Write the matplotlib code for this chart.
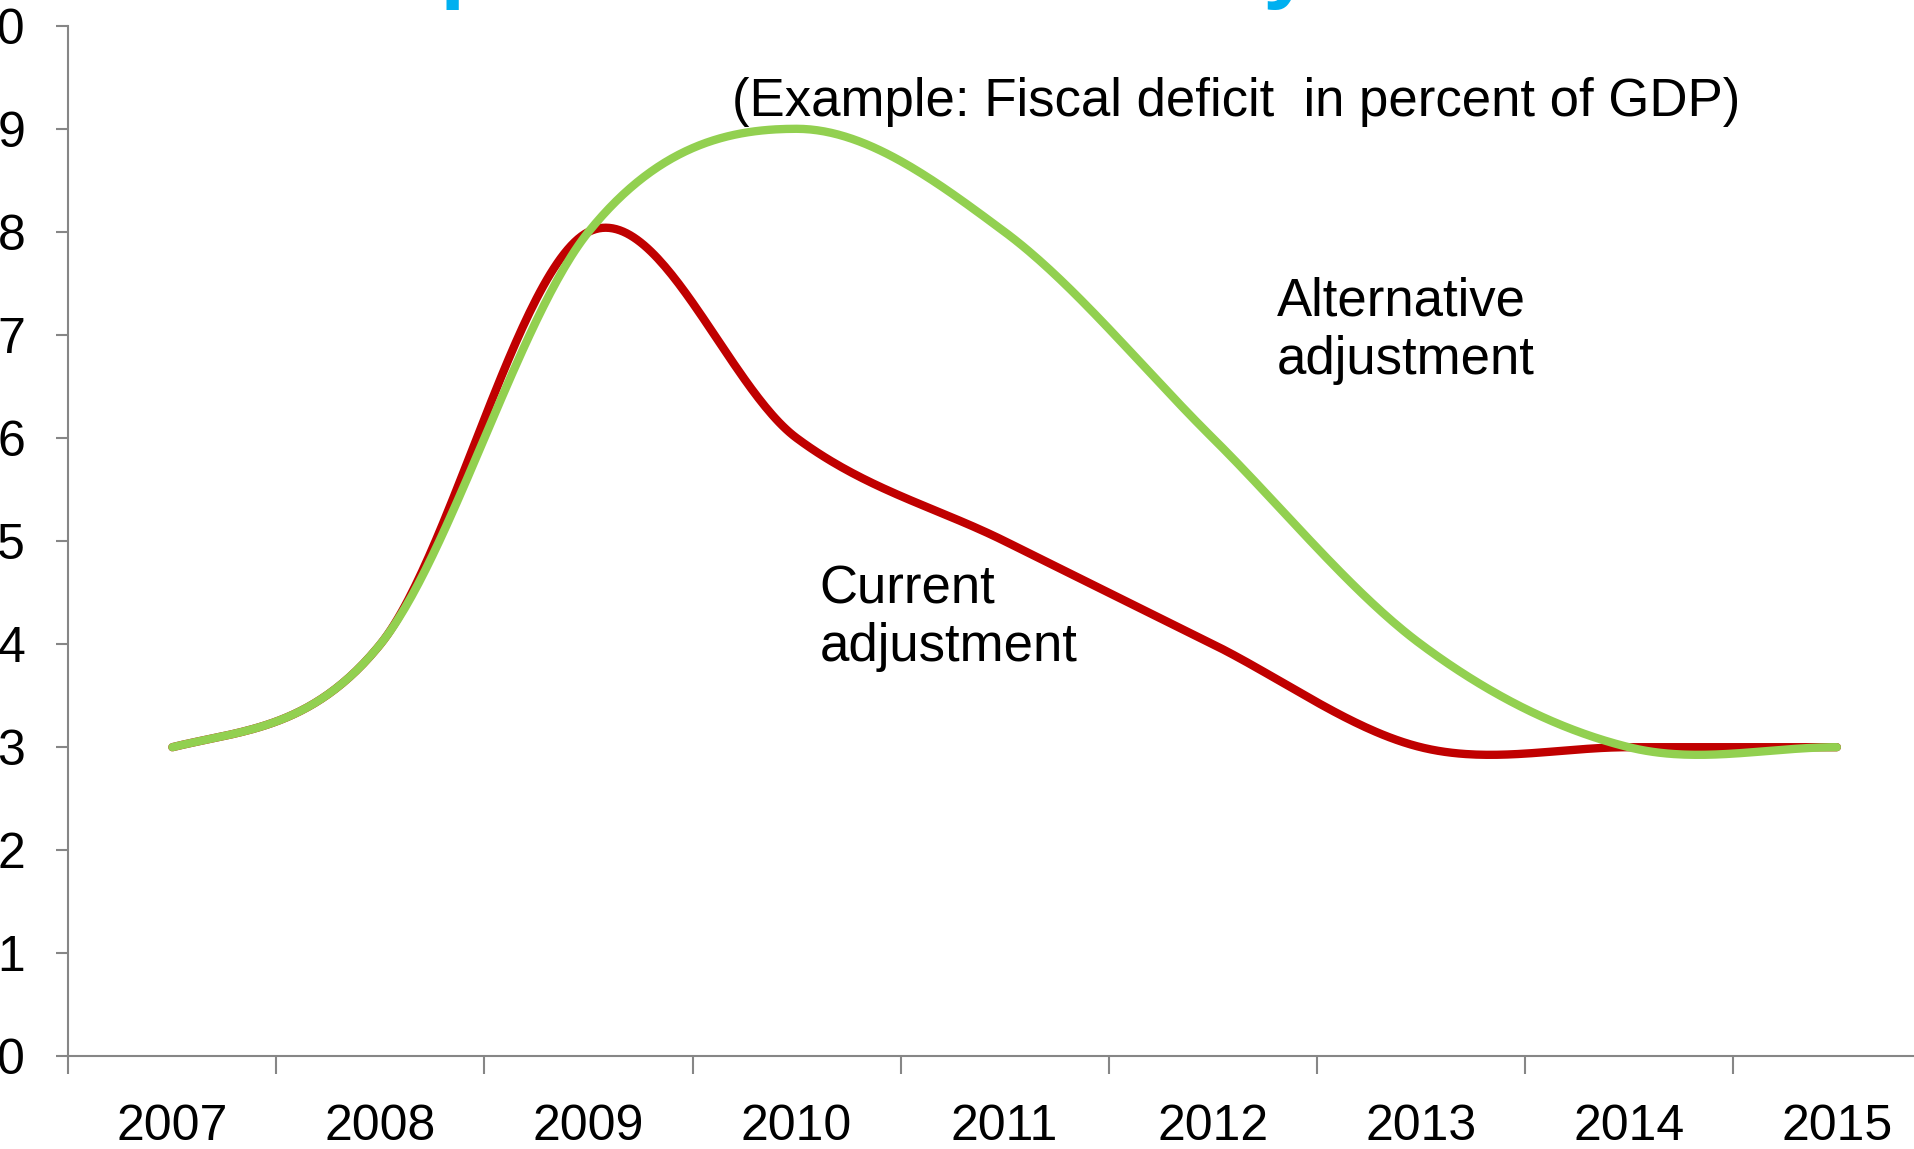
import numpy as np
import matplotlib.pyplot as plt

years = ['2007', '2008', '2009', '2010', '2011', '2012', '2013', '2014', '2015']
current = [3, 4, 8, 6, 5, 4, 3, 3, 3]
alternative = [3, 4, 8, 9, 8, 6, 4, 3, 3]

plt.rcParams['font.family'] = ['Liberation Sans', 'DejaVu Sans']


def smooth(vals, n=60):
    # excel-style smoothed line (catmull-rom between points)
    p = np.array(vals, dtype=float)
    ext = np.concatenate([[p[0]], p, [p[-1]]])
    xs, ys = [], []
    for i in range(len(p) - 1):
        p0, p1, p2, p3 = ext[i], ext[i + 1], ext[i + 2], ext[i + 3]
        t = np.linspace(0, 1, n, endpoint=False)
        y = 0.5 * ((2 * p1) + (-p0 + p2) * t + (2 * p0 - 5 * p1 + 4 * p2 - p3) * t ** 2
                   + (-p0 + 3 * p1 - 3 * p2 + p3) * t ** 3)
        xs.append(i + t)
        ys.append(y)
    xs.append([len(p) - 1])
    ys.append([p[-1]])
    return np.concatenate(xs), np.concatenate(ys)


fig = plt.figure(figsize=(19.15, 11.49), dpi=100)
ax = fig.add_axes([0.0357, 0.0806, 0.9778, 0.897])

x, y = smooth(current)
ax.plot(x, y, color='#C00000', lw=6, solid_capstyle='round')
x, y = smooth(alternative)
ax.plot(x, y, color='#92D050', lw=6, solid_capstyle='round')

ax.set_xlim(-0.5, 8.5)
ax.set_ylim(0, 10)
ax.set_yticks(range(0, 11))
ax.set_xticks(range(len(years)))
ax.set_xticklabels(years)
ax.set_xticks(np.arange(-0.5, 9, 1), minor=True)
ax.tick_params(axis='x', which='major', length=0, pad=34, labelsize=36)
ax.tick_params(axis='x', which='minor', length=13, width=1.5, color='#868686', direction='out')
ax.tick_params(axis='y', length=9, width=1.5, color='#868686', pad=22, labelsize=36)

for s in ['top', 'right']:
    ax.spines[s].set_visible(False)
for s in ['left', 'bottom']:
    ax.spines[s].set_color('#868686')
    ax.spines[s].set_linewidth(1.5)

ax.text(2.69, 9.26, '(Example: Fiscal deficit  in percent of GDP)', fontsize=38,
        ha='left', va='center')
ax.text(3.11, 4.25, 'Current\nadjustment', fontsize=38, ha='left', va='center',
        linespacing=1.2)
ax.text(5.31, 7.04, 'Alternative\nadjustment', fontsize=38, ha='left', va='center',
        linespacing=1.2)

# slide title, mostly above the cropped top edge
fig.text(0.193, 1.008, 'Options across the cycle', fontsize=65,
         fontweight='bold', color='#00B0F0', ha='left', va='baseline')

fig.savefig('out.png', dpi=100)
